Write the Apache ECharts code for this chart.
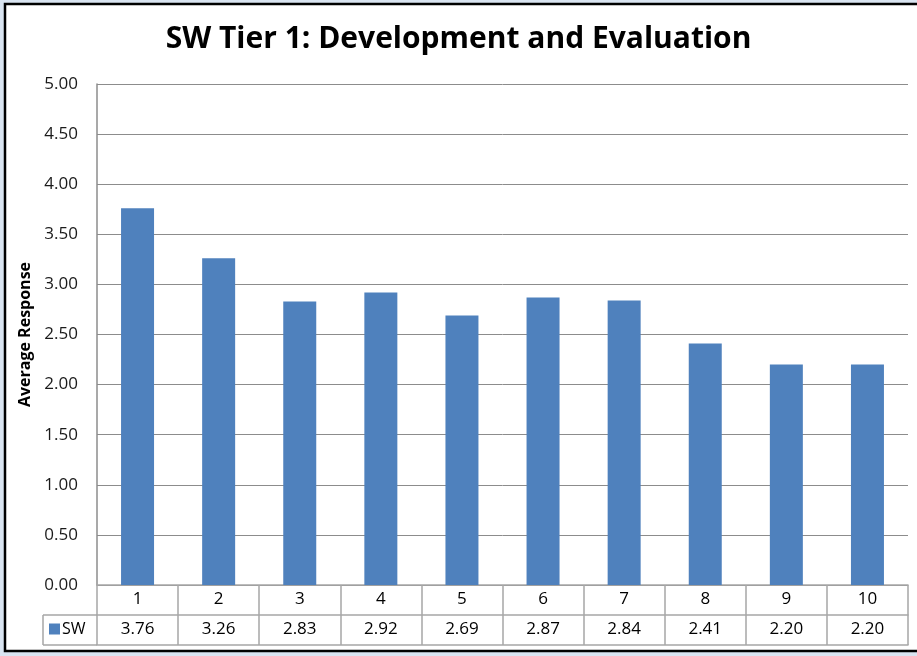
<!DOCTYPE html>
<html>
<head>
<meta charset="utf-8">
<script src="https://cdn.jsdelivr.net/npm/echarts@6/dist/echarts.min.js"></script>
<style>
html,body{margin:0;padding:0;background:#d9e4f1;}
#chart{width:917px;height:656px;}
</style>
</head>
<body>
<div id="chart"></div>
<script>
const titleText = "SW Tier 1: Development and Evaluation";
const categories = ["1","2","3","4","5","6","7","8","9","10"];
const seriesName = "SW";
const values = [3.76, 3.26, 2.83, 2.92, 2.69, 2.87, 2.84, 2.41, 2.20, 2.20];
const yAxisName = "Average Response";

const FONT = "'Open Sans', 'Noto Sans', sans-serif";
const gridLine = "#8c8c8c";
const tableLine = "#a6a6a6";
const chart = echarts.init(document.getElementById('chart'));
chart.setOption({
  animation: false,
  backgroundColor: '#d9e4f1',
  title: {
    text: titleText, left: 'center', top: 19,
    textStyle: {fontFamily: FONT, fontWeight: 'bold', fontSize: 30, color: '#000'}
  },
  legend: {
    data: [seriesName], left: 49, top: 621, itemWidth: 11, itemHeight: 11, itemGap: 4,
    icon: 'rect', padding: 0,
    textStyle: {fontFamily: FONT, fontSize: 16, color: '#000', padding: [0,0,0,-3]}
  },
  grid: {left: 97, right: 9, top: 84, bottom: 71, containLabel: false},
  xAxis: [
    {type: 'category', data: categories, position: 'bottom',
     axisLine: {show: true, lineStyle: {color: tableLine, width: 1.5}},
     axisTick: {show: true, length: 60, alignWithLabel: false, lineStyle: {color: tableLine, width: 1.5}},
     axisLabel: {margin: 6, fontFamily: FONT, fontSize: 17, color: '#000'}},
    {type: 'category', data: values.map(v => v.toFixed(2)), position: 'bottom', offset: 30,
     axisLine: {show: true, lineStyle: {color: tableLine, width: 1.5}},
     axisTick: {show: false},
     axisLabel: {margin: 6, fontFamily: FONT, fontSize: 17, color: '#000'}},
    {type: 'category', data: categories, position: 'bottom', offset: 60,
     axisLine: {show: true, lineStyle: {color: tableLine, width: 1.5}},
     axisTick: {show: false}, axisLabel: {show: false}}
  ],
  yAxis: {
    type: 'value', min: 0, max: 5, interval: 0.5,
    name: yAxisName, nameLocation: 'middle', nameGap: 58, nameRotate: 90,
    nameTextStyle: {fontFamily: FONT, fontWeight: 'bold', fontSize: 16, color: '#000'},
    axisLine: {show: true, lineStyle: {color: gridLine, width: 1.5}},
    axisTick: {show: false},
    axisLabel: {margin: 19, fontFamily: FONT, fontSize: 17, color: '#1a1a1a', formatter: v => v.toFixed(2)},
    splitLine: {show: true, lineStyle: {color: gridLine, width: 1}}
  },
  series: [{
    name: seriesName, type: 'bar', data: values, barWidth: 33,
    itemStyle: {color: '#4f81bd'}
  }],
  graphic: [
    {type: 'rect', z: -10, silent: true, shape: {x: 5, y: 4, width: 930, height: 647},
     style: {fill: '#fff', stroke: '#000', lineWidth: 2.5}},
    {type: 'line', silent: true, shape: {x1: 43, y1: 615, x2: 97, y2: 615}, style: {stroke: tableLine, lineWidth: 1.5}},
    {type: 'line', silent: true, shape: {x1: 43, y1: 645, x2: 97, y2: 645}, style: {stroke: tableLine, lineWidth: 1.5}},
    {type: 'line', silent: true, shape: {x1: 43, y1: 615, x2: 43, y2: 645}, style: {stroke: tableLine, lineWidth: 1.5}}
  ]
});
</script>
</body>
</html>
